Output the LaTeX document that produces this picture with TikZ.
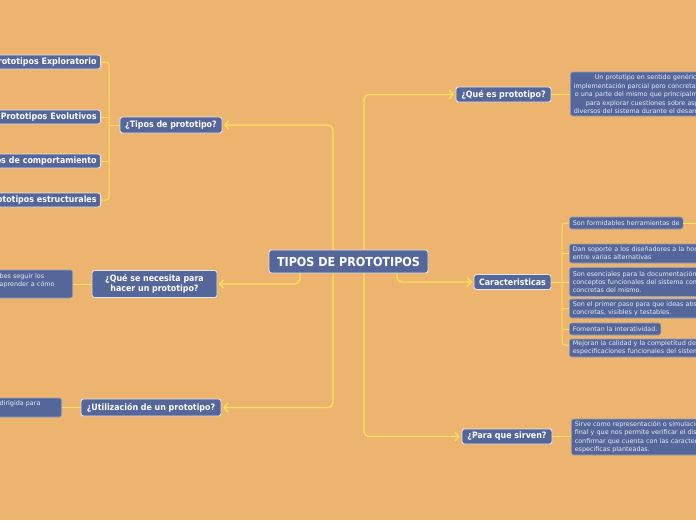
\documentclass[tikz,border=0pt]{standalone}
\usepackage{fontspec}
\setmainfont{DejaVu Sans}
\newfontfamily\condf{DejaVu Sans Condensed}
\usetikzlibrary{arrows.meta}
\definecolor{bg}{HTML}{EDB46F}
\definecolor{nb}{HTML}{55679A}
\definecolor{ln}{HTML}{FCE15A}
\definecolor{bd}{HTML}{E2E5EE}
\definecolor{st}{HTML}{E8EBF3}
\begin{document}
\begin{tikzpicture}[x=1pt,y=-1pt,
 topic/.style={draw=bd, line width=0.9pt, fill=nb, rounded corners=2.5pt, text=white,
   font=\condf\bfseries\fontsize{8.8}{9.5}\selectfont, inner sep=0pt, align=center},
 leaf/.style={draw=bd!45!nb, line width=0.6pt, fill=nb, rounded corners=2.5pt, text=st,
   font=\fontsize{6.4}{8}\selectfont, inner xsep=3.5pt, inner ysep=0pt, align=left},
 conn/.style={draw=ln, line width=1.3pt, rounded corners=5pt},
 thin/.style={draw=ln, line width=1pt, rounded corners=3pt},
 arr/.style={conn, -{Straight Barb[length=4pt,width=8.5pt]}, shorten >=1.5pt},
]
\useasboundingbox (0,0) rectangle (696,520);
\fill[bg] (0,0) rectangle (696,520);
\clip (0,0) rectangle (696,520);

\coordinate (xL) at (333,0);
\coordinate (xR) at (364,0);
\coordinate (xLL) at (300,0);
\coordinate (xRR) at (397,0);
\coordinate (brL) at (109,0);
\coordinate (brR) at (562,0);
\coordinate (k1ext) at (720,223);

% root
\node[topic, minimum width=159pt, minimum height=23pt, font=\condf\bfseries\fontsize{12.4}{14}\selectfont] (root) at (348.5,261.5) {TIPOS DE PROTOTIPOS};

% left side
\node[topic, minimum width=102pt, minimum height=16pt] (tipos) at (171,125) {¿Tipos de prototipo?};
\node[topic, anchor=east, text width=130pt, align=right, inner xsep=4pt, minimum height=14pt] (t1) at (101,62) {Prototipos Exploratorio};
\node[topic, anchor=east, text width=130pt, align=right, inner xsep=4pt, minimum height=14pt] (t2) at (101,117) {Prototipos Evolutivos};
\node[topic, anchor=east, text width=130pt, align=right, inner xsep=4pt, minimum height=14pt] (t3) at (101,161) {os de comportamiento};
\node[topic, anchor=east, text width=130pt, align=right, inner xsep=4pt, minimum height=14pt] (t4) at (101,200) {rototipos estructurales};

\node[topic, minimum width=125pt, minimum height=27pt] (nec) at (154.5,284) {¿Qué se necesita para\\hacer un prototipo?};
\node[leaf, anchor=east, text width=69.5pt, minimum height=28pt] (n1) at (73,284) {bes seguir los\\aprender a cómo\\\mbox{}};

\node[topic, minimum width=140pt, minimum height=17pt] (uti) at (151,407.5) {¿Utilización de un prototipo?};
\node[leaf, anchor=east, text width=58.5pt, minimum height=19pt] (u1) at (62,407.5) {dirigida para\\\mbox{}};

% right side
\node[topic, minimum width=95pt, minimum height=15pt] (que) at (503.5,94.5) {¿Qué es prototipo?};
\node[leaf, anchor=west, text width=170pt, minimum height=44pt, font=\fontsize{6.4}{8.5}\selectfont] (q1) at (570,94) {\hspace*{21pt}Un prototipo en sentido genérico\\implementación parcial pero concreta\\\hspace*{1pt}o una parte del mismo que principalmente\\\hspace*{12pt}para explorar cuestiones sobre aspectos\\diversos del sistema durante el desarrollo};

\node[topic, minimum width=77pt, minimum height=15pt] (car) at (512.5,282) {Caracteristicas};
\node[leaf, anchor=west, minimum height=12pt] (k1) at (569,223) {Son formidables herramientas de};
\node[leaf, anchor=west, text width=170pt, minimum height=19pt] (k2) at (569,253.5) {Dan soporte a los diseñadores a la hora\\entre varias alternativas};
\node[leaf, anchor=west, text width=170pt, minimum height=29pt] (k3) at (569,282) {Son esenciales para la documentación\\conceptos funcionales del sistema con\\concretas del mismo.};
\node[leaf, anchor=west, text width=170pt, minimum height=19pt] (k4) at (569,308.5) {Son el primer paso para que ideas abstractas\\concretas, visibles y testables.};
\node[leaf, anchor=west, minimum height=12pt] (k5) at (569,329) {Fomentan la interatividad.};
\node[leaf, anchor=west, text width=170pt, minimum height=18pt] (k6) at (569,348) {Mejoran la calidad y la completitud de\\especificaciones funcionales del sistema};

\node[topic, minimum width=90pt, minimum height=15pt] (para) at (507,436.5) {¿Para que sirven?};
\node[leaf, anchor=west, text width=170pt, minimum height=36pt, font=\fontsize{6.4}{8.3}\selectfont] (p1) at (571,437) {Sirve como representación o simulación\\final y que nos permite verificar el diseño\\confirmar que cuenta con las características\\especificas planteadas.};

% main connectors
\draw[arr] (root.north -| xL) |- (tipos.east);
\draw[arr] (root.south -| xL) |- (uti.east);
\draw[arr] (root.south -| xLL) |- (nec.east);
\draw[arr] (root.north -| xR) |- (que.west);
\draw[arr] (root.south -| xR) |- (para.west);
\draw[arr] (root.south -| xRR) |- (car.west);

% left bracket
\draw[thin] (t1.east) -| (t4.east -| brL) -- (t4.east);
\draw[thin] (t2.east) -- (t2.east -| brL);
\draw[thin] (t3.east) -- (t3.east -| brL);
\draw[thin] (tipos.west) -- (tipos.west -| brL);

% right bracket
\draw[thin] (k1.west) -| ([yshift=3pt]k6.west -| brR) -- ([yshift=3pt]k6.west);
\draw[thin] (car.east) -- (k3.west);
\draw[thin] (k2.west) -- (k2.west -| brR);
\draw[thin] (k4.west) -- (k4.west -| brR);
\draw[thin] (k5.west) -- (k5.west -| brR);
\draw[thin] (k1.east) -- (k1ext);

% single children
\draw[thin] (nec.west) -- (nec.west -| n1.east);
\draw[thin] (uti.west) -- (uti.west -| u1.east);
\draw[thin] (que.east) -- (que.east -| q1.west);
\draw[thin] (para.east) -- (para.east -| p1.west);
\end{tikzpicture}
\end{document}
